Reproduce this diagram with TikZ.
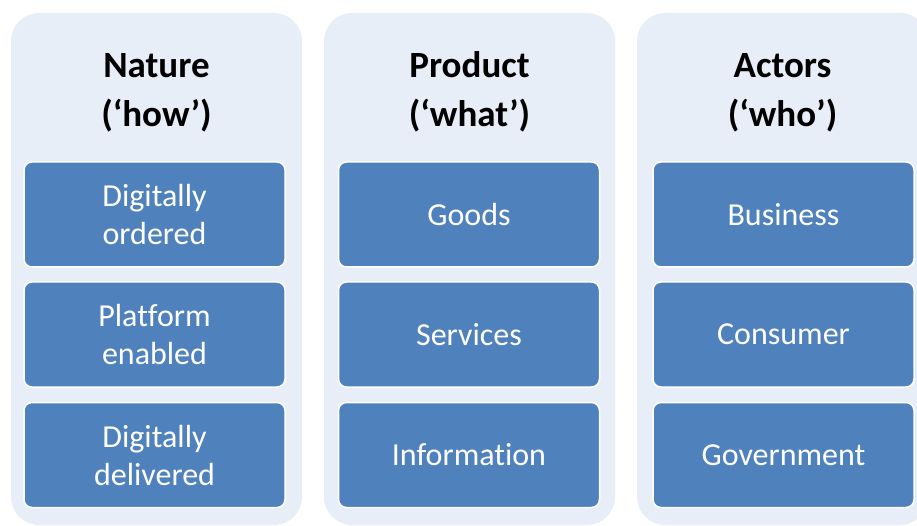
\documentclass[tikz,border=0pt]{standalone}
\usepackage{fontspec}
\setmainfont{Carlito}[Ligatures=NoCommon]
\definecolor{panelbg}{HTML}{E8EEF7}
\definecolor{boxblue}{HTML}{4F81BD}
\begin{document}
\begin{tikzpicture}[x=1pt,y=-1pt,
  panel/.style={fill=panelbg, rounded corners=28pt},
  itembox/.style={draw=white, line width=1.5pt, fill=boxblue, rounded corners=8pt,
    text=white, font=\fontsize{32}{38}\selectfont, align=center,
    minimum width=261pt, minimum height=105pt, inner sep=0pt},
  title/.style={font=\fontsize{37}{44}\selectfont\bfseries, anchor=base, inner sep=0pt}]
\useasboundingbox (0,0) rectangle (917,526);
\clip (0,0) rectangle (917,526);
% panels
\fill[panel] (11,13) rectangle (302,525);
\fill[panel] (324,13) rectangle (615,525);
\fill[panel] (637,13) rectangle (928,525);
% titles
\node[title] (t1a) at (156.5,78) {Nature};
\node[title] (t1b) at (156.5,127) {(‘how’)};
\node[title] (t2a) at (469.5,78) {Product};
\node[title] (t2b) at (469.5,127) {(‘what’)};
\node[title] (t3a) at (782.5,78) {Actors};
\node[title] (t3b) at (782.5,127) {(‘who’)};
% boxes
\node[itembox] (n1) at (154.5,214.5) {Digitally\\ordered};
\node[itembox] (n2) at (154.5,334.5) {Platform\\enabled};
\node[itembox] (n3) at (154.5,455) {Digitally\\delivered};
\node[itembox] (p1) at (469,214.5) {Goods};
\node[itembox] (p2) at (469,334.5) {Services};
\node[itembox] (p3) at (469,455) {Information};
\node[itembox] (a1) at (783.5,214.5) {Business};
\node[itembox] (a2) at (783.5,334.5) {Consumer};
\node[itembox] (a3) at (783.5,455) {Government};
\end{tikzpicture}
\end{document}
